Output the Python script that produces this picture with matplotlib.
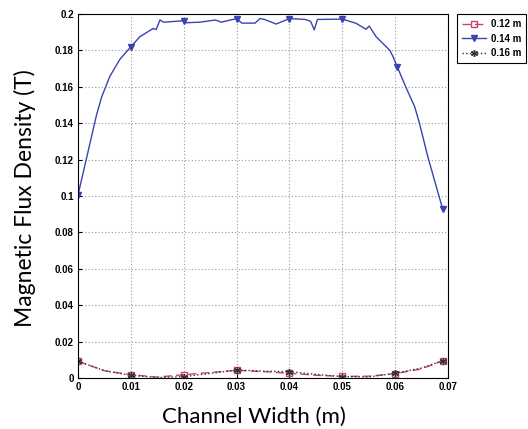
import numpy as np
import matplotlib
matplotlib.use("Agg")
import matplotlib.pyplot as plt

# channel position (m) and flux density (T) for each magnet spacing
x_014 = [0.0, 0.0035, 0.0045, 0.006, 0.0079, 0.01, 0.0117, 0.0142, 0.0148,
         0.0155, 0.0162, 0.02, 0.0205, 0.023, 0.026, 0.0271, 0.03, 0.031,
         0.0335, 0.0344, 0.0353, 0.0375, 0.04, 0.043, 0.044, 0.0447, 0.0453,
         0.05, 0.0526, 0.0545, 0.0551, 0.0564, 0.059, 0.0596, 0.0604, 0.062,
         0.0637, 0.0646, 0.0662, 0.0678, 0.069]
b_014 = [0.1005, 0.1445, 0.1546, 0.1656, 0.175, 0.182, 0.1875, 0.192, 0.1915,
         0.1967, 0.1955, 0.1963, 0.1952, 0.1955, 0.1967, 0.1955, 0.1975, 0.195,
         0.195, 0.1975, 0.197, 0.1945, 0.1975, 0.197, 0.196, 0.1913, 0.197,
         0.1972, 0.1949, 0.1916, 0.1934, 0.1875, 0.18, 0.1766, 0.171, 0.16,
         0.149, 0.14, 0.1214, 0.105, 0.0928]

x_012 = [0.0, 0.005, 0.01, 0.015, 0.02, 0.025, 0.03, 0.035, 0.04, 0.045,
         0.05, 0.055, 0.06, 0.065, 0.069]
b_012 = [0.0092, 0.004, 0.0018, 0.0005, 0.0018, 0.003, 0.0042, 0.0035, 0.0026,
         0.0015, 0.0009, 0.001, 0.0024, 0.005, 0.0095]

x_016 = x_012
b_016 = [0.0092, 0.004, 0.0015, 0.0002, 0.0008, 0.0025, 0.0044, 0.0038, 0.0035,
         0.002, 0.0008, 0.0005, 0.0026, 0.0055, 0.0095]

# points carrying markers
mark_014 = [0, 5, 11, 16, 22, 27, 34, 40]
mark_012 = [0, 2, 4, 6, 8, 10, 12, 14]

xticks = [0, 0.01, 0.02, 0.03, 0.04, 0.05, 0.06, 0.07]
xticklabels = ["0", "0.01", "0.02", "0.03", "0.04", "0.05", "0.06", "0.07"]
yticks = [0, 0.02, 0.04, 0.06, 0.08, 0.1, 0.12, 0.14, 0.16, 0.18, 0.2]
yticklabels = ["0", "0.02", "0.04", "0.06", "0.08", "0.1", "0.12", "0.14",
               "0.16", "0.18", "0.2"]

fig = plt.figure(figsize=(5.28, 4.29), dpi=100)
ax = fig.add_axes([78 / 528, 1 - 378 / 429, 370 / 528, 364 / 429])

ax.plot(x_012, b_012, color="#c8466a", linestyle=(0, (6, 3)), linewidth=1.0,
        marker="s", markersize=4.5, markerfacecolor="none",
        markevery=mark_012, label="0.12 m")
ax.plot(x_014, b_014, color="#3a44b0", linestyle="-", linewidth=1.0,
        marker="v", markersize=4.5, markevery=mark_014, label="0.14 m")
ax.plot(x_016, b_016, color="#333333", linestyle=":", linewidth=1.0,
        marker=(6, 2, 0), markersize=5, markeredgewidth=1.0,
        markevery=mark_012, label="0.16 m")

ax.set_xlim(0, 0.07)
ax.set_ylim(0, 0.2)
ax.set_xticks(xticks)
ax.set_xticklabels(xticklabels)
ax.set_yticks(yticks)
ax.set_yticklabels(yticklabels)
for lab in ax.get_xticklabels() + ax.get_yticklabels():
    lab.set_fontfamily("Liberation Sans")
    lab.set_fontweight("bold")
    lab.set_fontsize(7)
ax.tick_params(direction="in", length=3, pad=3, colors="black")
ax.grid(True, color="#999999", linestyle=(0, (1, 2)), linewidth=0.8)
for sp in ax.spines.values():
    sp.set_linewidth(0.8)

ax.set_xlabel("Channel Width (m)", fontfamily="Lato", fontsize=16)
ax.xaxis.set_label_coords((254 - 78) / 370, -(417 - 378) / 364)
ax.xaxis.label.set_va("center")
ax.set_ylabel("Magnetic Flux Density (T)", fontfamily="Lato", fontsize=16.5)
ax.yaxis.set_label_coords(-(78 - 25) / 370, (378 - 198) / 364)
ax.yaxis.label.set_va("center")

leg = ax.legend(loc="upper left", bbox_to_anchor=(457 / 528, 1 - 14 / 429),
                bbox_transform=fig.transFigure, fancybox=False,
                edgecolor="black", framealpha=1,
                prop={"family": "Liberation Sans", "weight": "bold", "size": 7},
                handlelength=2.4, handletextpad=0.5, borderpad=0.55,
                labelspacing=0.45, borderaxespad=0)
leg.get_frame().set_linewidth(0.8)

fig.savefig("out.png", dpi=100)
